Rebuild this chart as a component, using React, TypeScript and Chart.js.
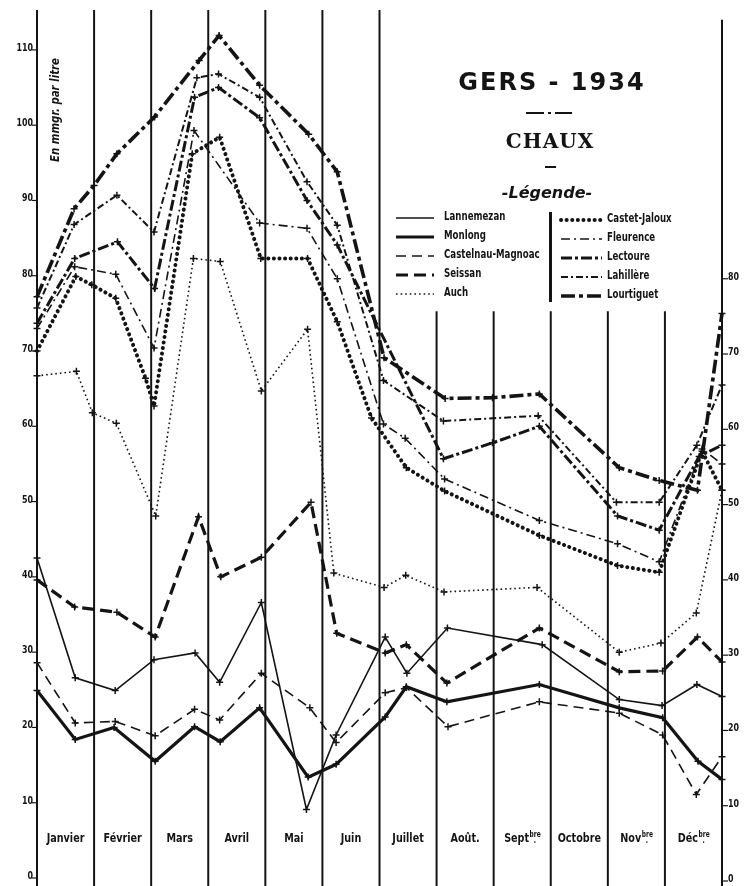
import React, { useEffect, useRef } from "react";
import { Chart, registerables } from "chart.js";
Chart.register(...registerables);

// ---------- DATA ----------
const monthBase = ["Janvier", "Février", "Mars", "Avril", "Mai", "Juin", "Juillet", "Août.", "Sept", "Octobre", "Nov", "Déc"];
const monthSup = ["", "", "", "", "", "", "", "", "bre", "", "bre", "bre"];
const leftTicks = [0, 10, 20, 30, 40, 50, 60, 70, 80, 90, 100, 110];
const rightTicks = [0, 10, 20, 30, 40, 50, 60, 70, 80];

const seriesNames = ["Lannemezan", "Monlong", "Castelnau-Magnoac", "Seissan", "Auch", "Castet-Jaloux", "Fleurence", "Lectoure", "Lahillère", "Lourtiguet"];

// x = position in months (0 = 1er janvier, 12 = 31 décembre), y = mg par litre
const lannemezanX = [0, 0.67, 1.37, 2.05, 2.77, 3.2, 3.93, 4.72, 5.24, 6.1, 6.48, 7.19, 8.85, 10.2, 10.95, 11.56, 12];
const lannemezanY = [42.5, 26.6, 24.9, 29.0, 29.9, 26.0, 36.6, 9.1, 19.0, 32.0, 27.2, 33.2, 31.0, 23.7, 22.9, 25.7, 24.1];

const monlongX = [0, 0.67, 1.35, 2.07, 2.76, 3.21, 3.9, 4.75, 5.24, 6.1, 6.47, 7.18, 8.8, 10.2, 10.96, 11.58, 12];
const monlongY = [24.9, 18.4, 20.0, 15.5, 20.1, 18.1, 22.6, 13.4, 15.1, 21.4, 25.4, 23.4, 25.7, 22.6, 21.3, 15.5, 13.1];

const castelnauX = [0, 0.67, 1.37, 2.07, 2.76, 3.2, 3.93, 4.78, 5.24, 6.1, 6.47, 7.2, 8.8, 10.2, 10.96, 11.55, 12];
const castelnauY = [28.6, 20.6, 20.8, 18.9, 22.4, 21.0, 27.2, 22.6, 18.0, 24.6, 25.3, 20.1, 23.4, 21.9, 19.0, 11.1, 16.1];

const seissanX = [0, 0.66, 1.4, 2.07, 2.83, 3.22, 3.93, 4.8, 5.25, 6.1, 6.47, 7.18, 8.8, 10.2, 10.96, 11.57, 12];
const seissanY = [39.6, 36.0, 35.3, 32.0, 48.0, 40.0, 42.6, 49.9, 32.5, 29.9, 31.0, 25.9, 33.2, 27.4, 27.5, 32.0, 28.7];

const auchX = [0, 0.69, 0.97, 1.39, 2.08, 2.74, 3.21, 3.93, 4.74, 5.2, 6.08, 6.46, 7.13, 8.76, 10.2, 10.93, 11.55, 12];
const auchY = [66.7, 67.3, 61.8, 60.4, 48.1, 82.3, 81.9, 64.7, 72.9, 40.5, 38.6, 40.2, 38.0, 38.6, 30.0, 31.2, 35.2, 51.5];

const castetX = [0, 0.68, 0.96, 1.38, 1.9, 2.05, 2.72, 3.2, 3.92, 4.74, 5.26, 5.86, 6.47, 7.14, 8.8, 10.17, 10.9, 11.65, 12];
const castetY = [70.0, 79.9, 78.8, 77.0, 66.4, 62.7, 96.2, 98.4, 82.3, 82.3, 73.9, 61.1, 54.5, 51.4, 45.5, 41.5, 40.6, 56.7, 51.5];

const fleurenceX = [0, 0.66, 1.38, 2.05, 2.75, 3.9, 4.73, 5.26, 6.07, 6.45, 7.14, 8.8, 10.17, 10.9, 11.65, 12];
const fleurenceY = [73.0, 81.2, 80.2, 70.4, 99.3, 87.0, 86.3, 79.6, 60.3, 58.4, 53.0, 47.5, 44.4, 42.0, 57.0, 55.0];

const lectoureX = [0, 0.66, 1.41, 2.06, 2.76, 3.18, 3.9, 4.73, 5.26, 7.12, 7.98, 8.8, 10.17, 10.9, 11.6, 12];
const lectoureY = [73.7, 82.3, 84.5, 78.3, 103.7, 105.0, 101.0, 90.0, 84.1, 55.7, 57.8, 60.0, 48.1, 46.2, 56.0, 57.5];

const lahillereX = [0, 0.65, 1.4, 2.05, 2.8, 3.18, 3.9, 4.73, 5.26, 6.07, 7.12, 8.78, 10.15, 10.9, 11.56, 12];
const lahillereY = [75.7, 86.8, 90.7, 85.8, 106.3, 106.8, 103.7, 92.5, 86.7, 66.1, 60.7, 61.4, 49.9, 49.9, 57.5, 65.5];

const lourtiguetX = [0, 0.65, 1.0, 1.4, 2.06, 2.84, 3.19, 3.9, 4.76, 5.26, 6.08, 7.15, 7.98, 8.8, 10.2, 10.9, 11.57, 12];
const lourtiguetY = [77.2, 88.9, 92.0, 96.2, 101.1, 108.6, 111.9, 105.3, 98.8, 93.8, 69.1, 63.7, 63.8, 64.3, 54.5, 52.8, 51.5, 75.0];

const seriesX = [lannemezanX, monlongX, castelnauX, seissanX, auchX, castetX, fleurenceX, lectoureX, lahillereX, lourtiguetX];
const seriesY = [lannemezanY, monlongY, castelnauY, seissanY, auchY, castetY, fleurenceY, lectoureY, lahillereY, lourtiguetY];

// ---------- STYLES ----------
const INK = "#141414";
type St = { w: number; dash: number[]; cap: CanvasLineCap };
const styles: St[] = [
  { w: 1.6, dash: [], cap: "butt" },
  { w: 3.2, dash: [], cap: "butt" },
  { w: 1.6, dash: [10, 6], cap: "butt" },
  { w: 3.2, dash: [12, 6], cap: "butt" },
  { w: 1.6, dash: [1.6, 3], cap: "butt" },
  { w: 4, dash: [0.1, 5.5], cap: "round" },
  { w: 1.6, dash: [9, 4, 2, 4], cap: "butt" },
  { w: 3, dash: [11, 3, 3, 3], cap: "butt" },
  { w: 2, dash: [7, 3, 2, 3], cap: "butt" },
  { w: 3.6, dash: [14, 4, 4, 4], cap: "butt" },
];

function condText(ctx: CanvasRenderingContext2D, text: string, x: number, y: number, font: string, sx: number, align: CanvasTextAlign) {
  ctx.save();
  ctx.font = font;
  ctx.translate(x, y);
  ctx.scale(sx, 1);
  ctx.textAlign = align;
  ctx.textBaseline = "alphabetic";
  ctx.fillText(text, 0, 0);
  ctx.restore();
}

function strokeSample(ctx: CanvasRenderingContext2D, s: St, x1: number, x2: number, y: number) {
  ctx.save();
  ctx.strokeStyle = INK;
  ctx.lineWidth = s.w;
  ctx.setLineDash(s.dash);
  ctx.lineCap = s.cap;
  ctx.beginPath();
  ctx.moveTo(x1, y);
  ctx.lineTo(x2, y);
  ctx.stroke();
  ctx.restore();
}

const decor = {
  id: "decor",
  beforeDraw(chart: any) {
    const ctx = chart.ctx as CanvasRenderingContext2D;
    ctx.save();
    ctx.fillStyle = "#ffffff";
    ctx.fillRect(0, 0, chart.width, chart.height);
    ctx.restore();
  },
  beforeDatasetsDraw(chart: any) {
    const ctx = chart.ctx as CanvasRenderingContext2D;
    const xs = chart.scales.x;
    const ys = chart.scales.y;
    ctx.save();
    ctx.fillStyle = INK;
    ctx.strokeStyle = INK;
    // vertical month lines
    ctx.lineWidth = 2;
    for (let k = 0; k <= 12; k++) {
      const x = xs.getPixelForValue(k);
      const topVal = k >= 7 && k <= 11 ? 75.3 : k === 12 ? 114 : 115.3;
      ctx.beginPath();
      ctx.moveTo(x, ys.getPixelForValue(topVal));
      ctx.lineTo(x, chart.height);
      ctx.stroke();
    }
    // left ticks
    const x0 = xs.getPixelForValue(0);
    ctx.lineWidth = 1.2;
    for (const v of leftTicks) {
      const y = ys.getPixelForValue(v);
      ctx.beginPath();
      ctx.moveTo(x0 - 5, y);
      ctx.lineTo(x0, y);
      ctx.stroke();
      condText(ctx, String(v), x0 - 4, y + 1, 'bold 11px "DejaVu Sans"', 0.72, "right");
    }
    // right ticks
    const x1 = xs.getPixelForValue(12);
    for (const v of rightTicks) {
      const y = ys.getPixelForValue(v) + 3;
      ctx.beginPath();
      ctx.moveTo(x1, y);
      ctx.lineTo(x1 + 6, y);
      ctx.stroke();
      condText(ctx, String(v), x1 + 6, y + 1, 'bold 11px "DejaVu Sans"', 0.72, "left");
    }
    // month labels
    const my = ys.getPixelForValue(5.5) + 5;
    for (let i = 0; i < 12; i++) {
      const cx = xs.getPixelForValue(i + 0.5);
      const sx = 0.74;
      ctx.font = 'bold 13px "DejaVu Sans"';
      const wb = ctx.measureText(monthBase[i]).width * sx;
      ctx.font = 'bold 8px "DejaVu Sans"';
      const ws = monthSup[i] ? ctx.measureText(monthSup[i]).width * sx : 0;
      const start = cx - (wb + ws) / 2;
      condText(ctx, monthBase[i], start, my, 'bold 13px "DejaVu Sans"', sx, "left");
      if (monthSup[i]) {
        condText(ctx, monthSup[i], start + wb + 0.5, my - 5, 'bold 8px "DejaVu Sans"', sx, "left");
        condText(ctx, ".", start + wb + ws / 2 - 1, my + 1, 'bold 8px "DejaVu Sans"', sx, "left");
      }
    }
    // axis title
    ctx.save();
    ctx.translate(56, 110);
    ctx.rotate(-Math.PI / 2);
    ctx.font = 'italic bold 12px "DejaVu Sans"';
    ctx.textAlign = "center";
    ctx.textBaseline = "middle";
    ctx.scale(0.85, 1);
    ctx.fillText("En mmgr. par litre", 0, 0);
    ctx.restore();

    // title block
    ctx.save();
    ctx.textAlign = "center";
    ctx.textBaseline = "middle";
    ctx.font = 'bold 24px "DejaVu Sans"';
    (ctx as any).letterSpacing = "2px";
    ctx.fillText("GERS - 1934", 552, 84);
    (ctx as any).letterSpacing = "1px";
    ctx.font = 'bold 20px "DejaVu Serif"';
    ctx.fillText("CHAUX", 550, 143);
    (ctx as any).letterSpacing = "0px";
    ctx.font = 'italic bold 16px "DejaVu Sans"';
    ctx.fillText("-Légende-", 547, 194);
    ctx.restore();
    strokeSample(ctx, { w: 2, dash: [18, 4, 3, 4], cap: "butt" }, 526, 572, 113);
    strokeSample(ctx, { w: 2, dash: [], cap: "butt" }, 545, 556, 167);

    // legend
    const leftRows = [218, 237, 256, 275, 294];
    const rightRows = [220, 239, 258, 277, 296];
    for (let i = 0; i < 5; i++) {
      strokeSample(ctx, styles[i], 396, 434, leftRows[i]);
      condText(ctx, seriesNames[i], 444, leftRows[i] + 2, 'bold 12px "DejaVu Sans"', 0.72, "left");
      strokeSample(ctx, styles[i + 5], 561, 602, rightRows[i]);
      condText(ctx, seriesNames[i + 5], 607, rightRows[i] + 2, 'bold 12px "DejaVu Sans"', 0.72, "left");
    }
    ctx.fillRect(549, 212, 3, 90);
    ctx.restore();
  },
};

export default function App() {
  const ref = useRef<HTMLCanvasElement>(null);
  useEffect(() => {
    const datasets = seriesNames.map((name, i) => ({
      label: name,
      data: seriesX[i].map((x, j) => ({ x, y: seriesY[i][j] })),
      borderColor: INK,
      backgroundColor: INK,
      borderWidth: styles[i].w,
      borderDash: styles[i].dash,
      borderCapStyle: styles[i].cap,
      pointStyle: "cross",
      pointRadius: 3.5,
      pointBorderWidth: 1.5,
      pointBorderColor: INK,
      tension: 0,
      fill: false,
      clip: false as any,
    }));
    const chart = new Chart(ref.current!, {
      type: "line",
      data: { datasets } as any,
      options: {
        responsive: false,
        animation: false,
        devicePixelRatio: 1,
        layout: { padding: { left: 37, right: 26, top: 10, bottom: 8 } },
        scales: {
          x: { type: "linear", min: 0, max: 12, display: false },
          y: { type: "linear", min: 0, max: 115.3, display: false },
        },
        plugins: { legend: { display: false }, tooltip: { enabled: false } },
      } as any,
      plugins: [decor],
    });
    return () => chart.destroy();
  }, []);
  return (
    <div style={{ position: "absolute", left: 0, top: 0, width: 748, height: 886, background: "#fff" }}>
      <canvas ref={ref} width={748} height={886} style={{ display: "block", width: 748, height: 886 }} />
    </div>
  );
}
